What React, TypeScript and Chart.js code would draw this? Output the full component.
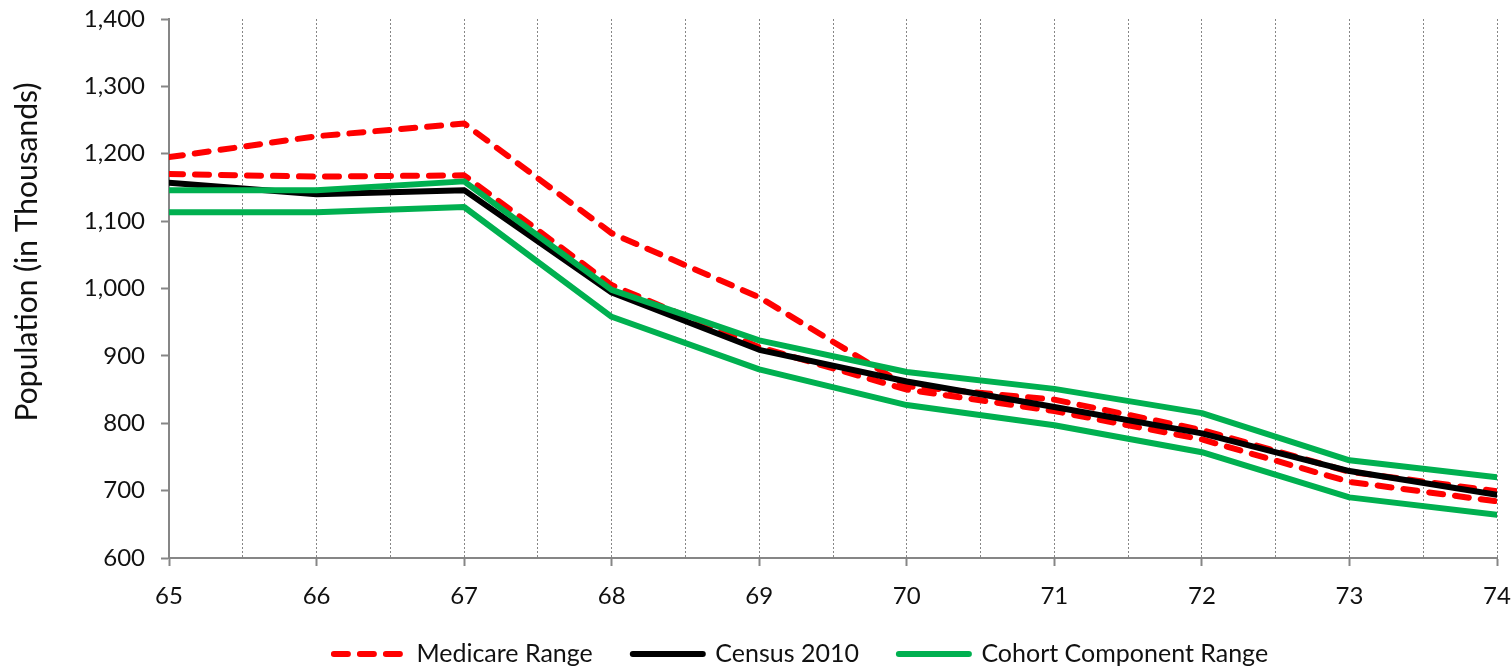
import React, { useEffect, useRef } from "react";
import { Chart, registerables } from "chart.js";

Chart.register(...registerables);

const ages = [65, 66, 67, 68, 69, 70, 71, 72, 73, 74];
const medicareHigh = [1195, 1226, 1245, 1082, 987, 855, 835, 790, 728, 699];
const medicareLow = [1170, 1166, 1168, 1005, 913, 850, 818, 776, 713, 684];
const census2010 = [1157, 1140, 1146, 994, 909, 862, 824, 785, 729, 694];
const cohortHigh = [1146, 1146, 1159, 998, 923, 876, 851, 815, 745, 720];
const cohortLow = [1113, 1113, 1121, 958, 880, 827, 797, 757, 690, 664];
const yTicks = [600, 700, 800, 900, 1000, 1100, 1200, 1300, 1400];

const legendLabels = ["Medicare Range", "Census 2010", "Cohort Component Range"];
const yTitle = "Population (in Thousands)";

const FONT = "Lato, 'Open Sans', sans-serif";
const GRID = "#868686";

const pts = (vals: number[]) => ages.map((a, i) => ({ x: a, y: vals[i] }));

const LEGEND_BOX_H = 20;

const legendShift = {
  id: "legendShift",
  beforeLayout(chart: any) {
    const lg = chart.legend;
    if (!lg || lg.__patched) return;
    const orig = lg.fit.bind(lg);
    lg.fit = function () {
      orig();
      this.height = LEGEND_BOX_H;
    };
    lg.__patched = true;
  },
  afterLayout(chart: any) {
    const lg = chart.legend;
    if (!lg) return;
    const dx = 801 - (lg.left + lg.right) / 2;
    const pad = lg.options.labels.padding;
    const fs = lg.options.labels.font.size;
    const dy = 654 - (lg.top + pad + fs / 2);
    lg.left += dx;
    lg.right += dx;
    lg.top += dy;
    lg.bottom = chart.height;
  },
};

const yTitlePlugin = {
  id: "yTitlePlugin",
  afterDraw(chart: any) {
    const ctx = chart.ctx;
    ctx.save();
    ctx.translate(27, 252);
    ctx.rotate(-Math.PI / 2);
    ctx.font = `30px ${FONT}`;
    ctx.fillStyle = "#111";
    ctx.textAlign = "center";
    ctx.textBaseline = "middle";
    ctx.fillText(yTitle, 0, 0);
    ctx.restore();
  },
};

export default function App() {
  const ref = useRef<HTMLCanvasElement | null>(null);

  useEffect(() => {
    if (!ref.current) return;
    const common = { fill: false, pointRadius: 0, tension: 0, borderJoinStyle: "round" as const };
    const chart = new Chart(ref.current, {
      type: "line",
      data: {
        datasets: [
          {
            ...common,
            label: legendLabels[0],
            data: pts(medicareHigh),
            borderColor: "#ff0000",
            backgroundColor: "#ff0000",
            borderWidth: 6,
            borderDash: [14, 12],
            borderCapStyle: "round",
            order: 3,
          },
          {
            ...common,
            label: legendLabels[0] + " low",
            data: pts(medicareLow),
            borderColor: "#ff0000",
            backgroundColor: "#ff0000",
            borderWidth: 6,
            borderDash: [14, 12],
            borderCapStyle: "round",
            order: 3,
          },
          {
            ...common,
            label: legendLabels[1],
            data: pts(census2010),
            borderColor: "#000000",
            backgroundColor: "#000000",
            borderWidth: 6,
            borderCapStyle: "round",
            order: 2,
          },
          {
            ...common,
            label: legendLabels[2],
            data: pts(cohortHigh),
            borderColor: "#00b050",
            backgroundColor: "#00b050",
            borderWidth: 6,
            borderCapStyle: "round",
            order: 1,
          },
          {
            ...common,
            label: legendLabels[2] + " low",
            data: pts(cohortLow),
            borderColor: "#00b050",
            backgroundColor: "#00b050",
            borderWidth: 6,
            borderCapStyle: "round",
            order: 1,
          },
        ],
      },
      options: {
        animation: false,
        responsive: false,
        maintainAspectRatio: false,
        layout: { padding: { top: 19, right: 14, left: 0, bottom: 0 } },
        plugins: {
          tooltip: { enabled: false },
          legend: {
            position: "bottom",
            labels: {
              usePointStyle: true,
              pointStyle: "line",
              pointStyleWidth: 70,
              boxHeight: 25,
              padding: 40,
              color: "#111",
              font: { family: FONT, size: 25 },
              filter: (item: any) => item.datasetIndex === 0 || item.datasetIndex === 2 || item.datasetIndex === 3,
              sort: (a: any, b: any) => a.datasetIndex - b.datasetIndex,
              generateLabels: (ch: any) => {
                const items = Chart.defaults.plugins.legend.labels.generateLabels(ch);
                return items.map((it: any) => {
                  const ds = ch.data.datasets[it.datasetIndex];
                  return {
                    ...it,
                    lineDash: ds.borderDash || [],
                    lineCap: "round",
                    lineWidth: 6,
                    strokeStyle: ds.borderColor,
                    fillStyle: ds.borderColor,
                    pointStyle: "line",
                  };
                });
              },
            },
          },
        },
        scales: {
          x: {
            type: "linear",
            min: ages[0],
            max: ages[ages.length - 1],
            afterBuildTicks: (scale: any) => {
              const t: any[] = [];
              for (let v = ages[0]; v <= ages[ages.length - 1] + 1e-9; v += 0.5) t.push({ value: v });
              scale.ticks = t;
            },
            afterFit: (scale: any) => {
              scale.height = 669 - 558 - LEGEND_BOX_H;
              scale.paddingLeft = 0;
              scale.paddingRight = 0;
            },
            border: { color: GRID, width: 2, dash: [2, 2] },
            grid: {
              color: GRID,
              lineWidth: 1,
              drawTicks: true,
              tickLength: 8,
              tickWidth: 2,
              tickBorderDash: [],
              tickColor: (ctx: any) => (ctx.tick && Number.isInteger(ctx.tick.value) ? GRID : "rgba(0,0,0,0)"),
            },
            ticks: {
              autoSkip: false,
              maxRotation: 0,
              padding: 16,
              color: "#111",
              font: { family: FONT, size: 24 },
              callback: (v: any) => (Number.isInteger(v) ? String(v) : ""),
            },
          },
          y: {
            type: "linear",
            min: yTicks[0],
            max: yTicks[yTicks.length - 1],
            afterBuildTicks: (scale: any) => {
              scale.ticks = yTicks.map((v) => ({ value: v }));
            },
            afterFit: (scale: any) => {
              scale.width = 169;
              scale.paddingTop = 0;
              scale.paddingBottom = 0;
            },
            border: { color: GRID, width: 2 },
            grid: {
              drawOnChartArea: false,
              drawTicks: true,
              tickLength: 8,
              tickWidth: 2,
              tickColor: GRID,
            },
            ticks: {
              padding: 16,
              color: "#111",
              font: { family: FONT, size: 24 },
              callback: (v: any) => Number(v).toLocaleString("en-US"),
            },
            title: { display: false },
          },
        },
      },
      plugins: [legendShift, yTitlePlugin],
    });
    return () => chart.destroy();
  }, []);

  return (
    <div style={{ position: "fixed", left: 0, top: 0, width: 1511, height: 669, background: "#fff" }}>
      <canvas ref={ref} width={1511} height={669} style={{ display: "block" }} />
    </div>
  );
}
